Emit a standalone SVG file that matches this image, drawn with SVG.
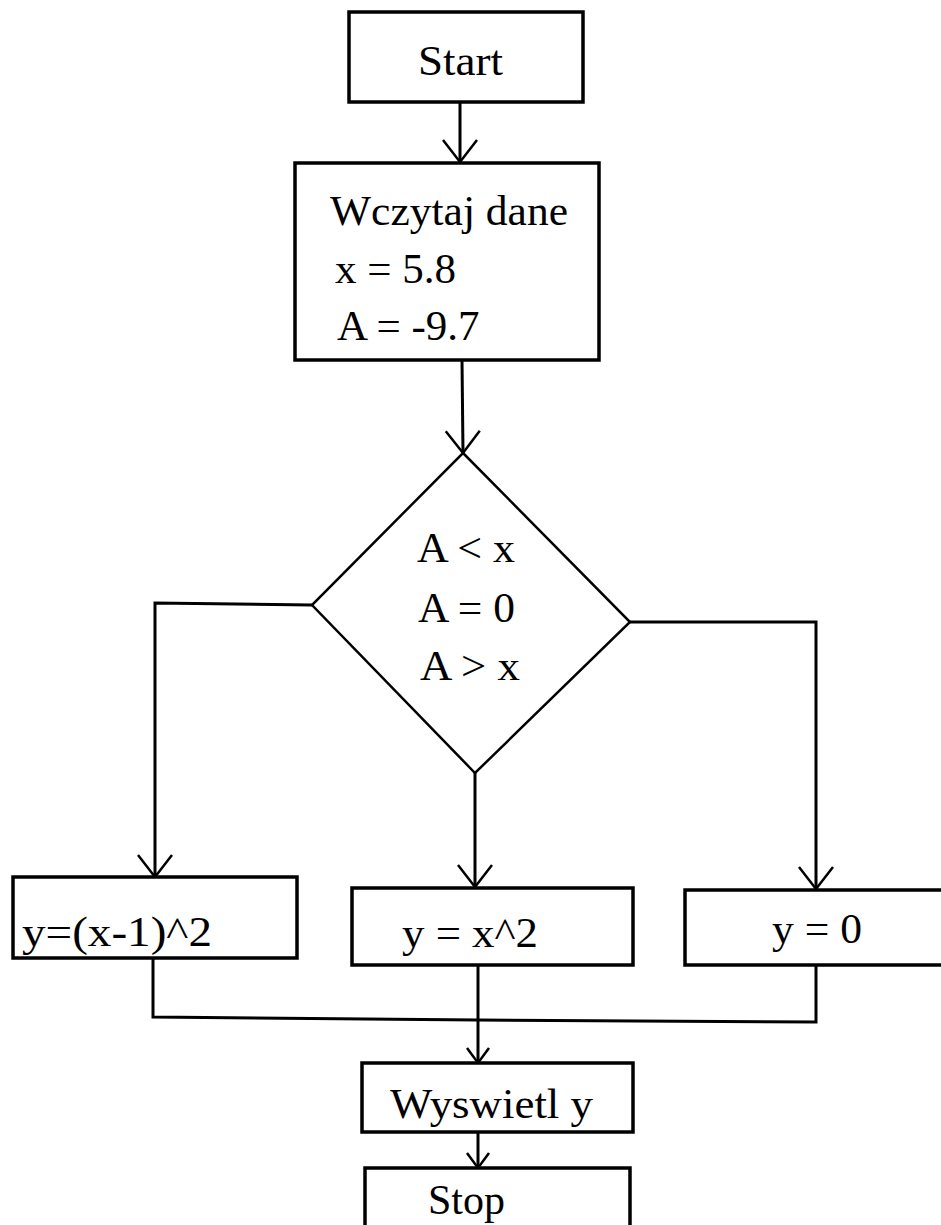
<svg xmlns="http://www.w3.org/2000/svg" width="941" height="1225" viewBox="0 0 941 1225">
<style>
.box{fill:#fff;stroke:#000;stroke-width:3.5}
.dia{fill:#fff;stroke:#000;stroke-width:2.5}
.c{fill:none;stroke:#000;stroke-width:3}
text{font-family:"Liberation Serif","Times New Roman",serif;font-size:43px;fill:#000}
</style>
<defs>
<marker id="arr" markerUnits="userSpaceOnUse" viewBox="-30 -30 40 60" markerWidth="40" markerHeight="60" refX="0" refY="0" orient="auto" overflow="visible">
<path d="M-22,-17 L0,0 L-22,17" fill="none" stroke="#000" stroke-width="2.5"/>
</marker>
<marker id="arrs" markerUnits="userSpaceOnUse" viewBox="-30 -30 40 60" markerWidth="40" markerHeight="60" refX="0" refY="0" orient="auto" overflow="visible">
<path d="M-15,-11 L0,0 L-15,11" fill="none" stroke="#000" stroke-width="2.5"/>
</marker>
</defs>
<rect width="941" height="1225" fill="#fff"/>
<g id="connectors">
<line class="c" x1="460" y1="102" x2="460" y2="162" marker-end="url(#arr)"/>
<line class="c" x1="462" y1="360" x2="463" y2="453" marker-end="url(#arr)"/>
<polyline class="c" points="312,605 155,603 155,877" marker-end="url(#arr)"/>
<line class="c" x1="475" y1="773" x2="475" y2="887" marker-end="url(#arr)"/>
<polyline class="c" points="630,622 816,622 816,889" marker-end="url(#arr)"/>
<polyline class="c" points="153,958 153,1017 478,1020 816,1022 816,966"/>
<line class="c" x1="478" y1="966" x2="478" y2="1063" marker-end="url(#arrs)"/>
<line class="c" x1="478" y1="1132" x2="478" y2="1168" marker-end="url(#arrs)"/>
</g>
<g id="start">
<rect class="box" x="349" y="12" width="234" height="90"/>
<text x="418" y="75" textLength="85" lengthAdjust="spacingAndGlyphs">Start</text>
</g>
<g id="input">
<rect class="box" x="295" y="163" width="304" height="197"/>
<text x="330" y="225" textLength="238" lengthAdjust="spacingAndGlyphs">Wczytaj dane</text>
<text x="335" y="283">x = 5.8</text>
<text x="337" y="340">A = -9.7</text>
</g>
<g id="decision">
<polygon class="dia" points="463,453 630,622 475,773 312,605"/>
<text x="417" y="562" textLength="98" lengthAdjust="spacingAndGlyphs">A &lt; x</text>
<text x="418" y="622" textLength="97" lengthAdjust="spacingAndGlyphs">A = 0</text>
<text x="420" y="680" textLength="100" lengthAdjust="spacingAndGlyphs">A &gt; x</text>
</g>
<g id="left">
<rect class="box" x="13" y="877" width="284" height="81"/>
<text x="22" y="946" textLength="190" lengthAdjust="spacingAndGlyphs">y=(x-1)^2</text>
</g>
<g id="middle">
<rect class="box" x="352" y="888" width="281" height="77"/>
<text x="402" y="947" textLength="136" lengthAdjust="spacingAndGlyphs">y = x^2</text>
</g>
<g id="right">
<rect class="box" x="685" y="890" width="270" height="75"/>
<text x="772" y="943" textLength="90" lengthAdjust="spacingAndGlyphs">y = 0</text>
</g>
<g id="output">
<rect class="box" x="362" y="1063" width="271" height="69"/>
<text x="390" y="1118" textLength="203" lengthAdjust="spacingAndGlyphs">Wyswietl y</text>
</g>
<g id="stop">
<rect class="box" x="365" y="1168" width="265" height="80"/>
<text x="428" y="1214" textLength="77" lengthAdjust="spacingAndGlyphs">Stop</text>
</g>
</svg>
